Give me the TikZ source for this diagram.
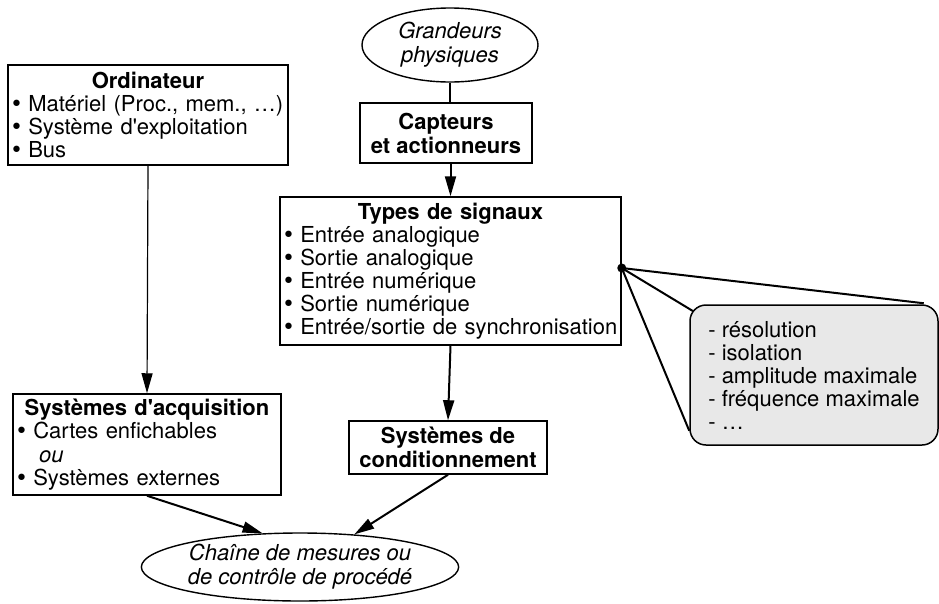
\documentclass[tikz,border=0pt]{standalone}
\usepackage{fontspec}
\setmainfont{TeX Gyre Heros}[Ligatures=TeXOff]
\newfontfamily\bulletfont{DejaVu Sans}
\usetikzlibrary{arrows.meta, positioning, calc, shapes.geometric, backgrounds}

% list bullet
\newcommand\bul{\kern-1pt{\bulletfont •}\kern-2pt}

\begin{document}
\begin{tikzpicture}[
    x=1pt, y=-1pt,
    >={Triangle[length=20pt, width=11pt]},
    font=\fontsize{22}{24}\selectfont,
    box/.style={draw, line width=1.5pt, inner xsep=2pt, inner ysep=1pt, align=left},
    titlebox/.style={draw, line width=1.5pt, inner sep=2pt, align=center, font=\fontsize{22}{24}\selectfont\bfseries},
    bubble/.style={draw, ellipse, line width=1.4pt, inner sep=0pt, align=center, font=\fontsize{22}{24}\selectfont\itshape},
    note/.style={draw, rounded corners=16pt, fill=gray!18, line width=1.5pt, align=left, font=\fontsize{22}{23}\selectfont},
    link/.style={line width=2pt},
    thin link/.style={line width=1.2pt}
]
    \useasboundingbox (0,0) rectangle (939,603);

    % ==================== NODES ====================
    \node[box, text width=276, minimum height=100] (ordi) at (148,115)
        {{\centering\bfseries Ordinateur\par}
         \bul{} Matériel (Proc., mem., …)\\
         \bul{} Système d'exploitation\\
         \bul{} Bus};

    \node[bubble, minimum width=176, minimum height=74] (grand) at (450,45)
        {Grandeurs\\physiques};

    \node[titlebox, minimum width=172, minimum height=60] (capt) at (446,133)
        {Capteurs\\et actionneurs};

    \node[box, text width=337, minimum height=148] (types) at (450.5,271)
        {{\centering\bfseries Types de signaux\par}
         \bul{} Entrée analogique\\
         \bul{} Sortie analogique\\
         \bul{} Entrée numérique\\
         \bul{} Sortie numérique\\
         \bul{} Entrée/sortie de synchronisation};

    \node[titlebox, minimum width=198, minimum height=53] (cond) at (448,447.5)
        {Systèmes de\\conditionnement};

    \node[box, text width=264, minimum height=101] (acq) at (147,444.5)
        {{\centering\bfseries Systèmes d'acquisition\par}
         \bul{} Cartes enfichables\\
         \hspace*{1.1em}\textit{ou}\\
         \bul{} Systèmes externes};

    \node[bubble, minimum width=284, minimum height=68] (chaine) at (300,567)
        {Chaîne de mesures ou\\de contrôle de procédé};

    % ==================== DETAILS CALLOUT ====================
    \node[note, minimum width=248, minimum height=140] (notes) at (814,375)
        {- résolution\\
         - isolation\\
         - amplitude maximale\\
         - fréquence maximale\\
         - …};

    \coordinate (dot) at ($(types.east)+(0,-3)$);
    \begin{scope}[on background layer]
        \draw[link] (dot) -- ($(notes.north east)+(-15,-1)$);
        \draw[link] (dot) -- ($(notes.north west)+(4,7)$);
        \draw[link] (dot) -- ($(notes.south west)+(0,-15)$);
    \end{scope}
    \fill (dot) circle (4.5pt);

    % ==================== CONNECTORS ====================
    \draw[thin link] (grand.south) -- (grand.south |- capt.north);
    \draw[thin link, ->] (ordi.south) -- (acq.north);
    \draw[link, ->] (types.north |- capt.south) -- (types.north);
    \draw[link, ->] (types.south) -- (cond.north);
    \draw[link, ->] (acq.south) -- (chaine.138);
    \draw[link, ->] (cond.south) -- (chaine.31);
\end{tikzpicture}
\end{document}
